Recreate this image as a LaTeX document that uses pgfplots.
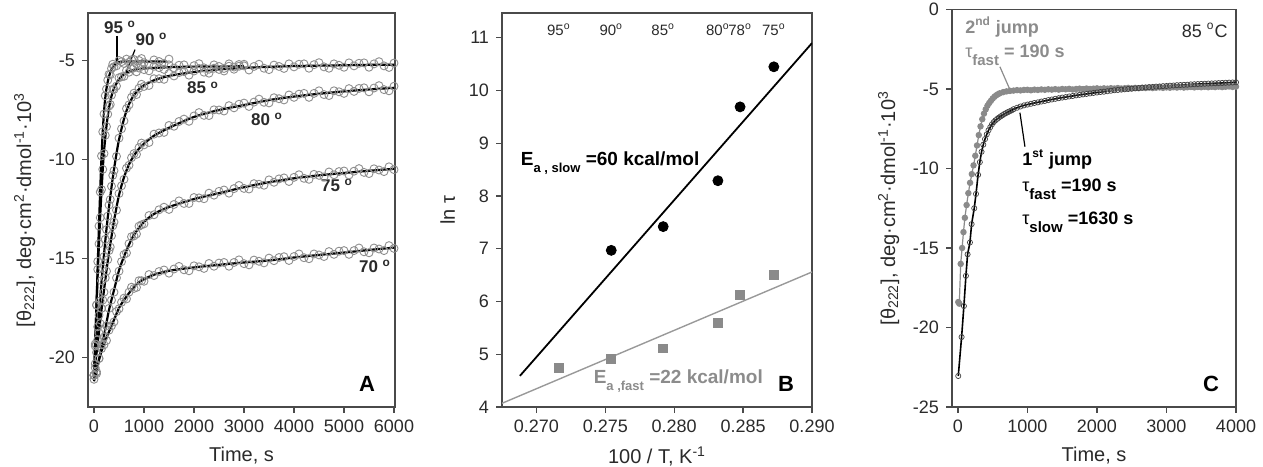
\documentclass[border=0pt]{standalone}
\usepackage{fontspec}
\setmainfont{Liberation Sans}
\usepackage{pgfplots}
\pgfplotsset{compat=1.18}
\usepackage{pgfplotstable}

\definecolor{axgray}{HTML}{4A4A4A}
\definecolor{labgray}{HTML}{2A2A2A}
\definecolor{circgray}{HTML}{8E8E8E}
\definecolor{ptgray}{HTML}{8A8A8A}
\definecolor{txtgray}{HTML}{8C8C8C}

\pgfplotsset{
  panel/.style={
    scale only axis,
    axis line style={draw=axgray, line width=0.8pt},
    tick align=outside, xtick pos=bottom, ytick pos=left,
    major tick length=3pt,
    tick style={draw=axgray, line width=0.7pt},
    ticklabel style={font=\fontsize{9}{10}\selectfont, text=labgray},
    label style={font=\fontsize{10}{12}\selectfont, text=labgray},
    /pgf/number format/assume math mode=true,
    /pgf/number format/1000 sep={},
    scaled ticks=false,
  },
  obs/.style={only marks, mark=o, mark size=2pt, mark options={draw=circgray, line width=0.45pt}},
  fit/.style={black, line width=1.1pt, smooth, tension=0.5},
}

% ---- panel A: observed points (time, ellipticity) ----
\pgfplotstableread{
x y
0 -20.90
25 -19.42
50 -17.35
75 -15.15
100 -13.36
125 -11.64
150 -9.82
175 -8.60
200 -7.70
225 -6.78
250 -6.44
275 -5.99
300 -5.70
325 -5.72
350 -5.40
375 -5.19
400 -5.31
450 -5.27
500 -5.00
550 -5.06
600 -5.15
650 -4.93
700 -5.09
750 -4.96
800 -4.95
850 -5.17
900 -5.00
950 -4.90
1000 -5.11
1100 -5.19
1200 -4.97
1300 -5.05
1400 -5.15
1500 -4.93
}\obsNF

\pgfplotstableread{
x y
0 -20.90
25 -19.32
50 -17.35
75 -15.55
100 -14.26
125 -12.94
150 -11.52
175 -10.50
200 -9.70
225 -8.78
250 -8.34
275 -7.71
300 -7.30
325 -7.22
350 -6.75
375 -6.45
400 -6.46
450 -6.29
500 -5.87
550 -5.82
600 -5.80
650 -5.50
700 -5.59
750 -5.41
800 -5.37
850 -5.57
900 -5.38
950 -5.26
1000 -5.46
1100 -5.52
1200 -5.29
1300 -5.36
1400 -5.45
1500 -5.22
1600 -5.38
1700 -5.24
1800 -5.22
1900 -5.44
2000 -5.26
2100 -5.16
2200 -5.37
2300 -5.44
2400 -5.22
2500 -5.30
2600 -5.40
2700 -5.17
2800 -5.33
2900 -5.20
3000 -5.19
}\obsNZ

\pgfplotstableread{
x y
0 -20.90
25 -20.32
50 -19.35
75 -18.45
100 -17.86
125 -17.14
150 -16.12
175 -15.50
200 -14.90
225 -14.03
250 -13.54
275 -12.86
300 -12.30
325 -12.02
350 -11.35
375 -10.80
400 -10.56
450 -9.84
500 -8.92
550 -8.45
600 -8.05
650 -7.43
700 -7.24
750 -6.86
800 -6.65
850 -6.72
900 -6.40
950 -6.20
1000 -6.31
1100 -6.26
1200 -5.92
1300 -5.92
1400 -5.95
1500 -5.66
1600 -5.78
1700 -5.61
1800 -5.56
1900 -5.74
2000 -5.53
2100 -5.40
2200 -5.59
2300 -5.64
2400 -5.39
2500 -5.45
2600 -5.53
2700 -5.29
2800 -5.44
2900 -5.29
3000 -5.27
3100 -5.48
3200 -5.30
3300 -5.19
3400 -5.39
3500 -5.46
3600 -5.23
3700 -5.30
3800 -5.40
3900 -5.17
4000 -5.32
4100 -5.19
4200 -5.17
4300 -5.39
4400 -5.21
4500 -5.11
4600 -5.32
4700 -5.39
4800 -5.17
4900 -5.24
5000 -5.34
5100 -5.12
5200 -5.27
5300 -5.14
5400 -5.12
5500 -5.34
5600 -5.17
5700 -5.06
5800 -5.27
5900 -5.35
6000 -5.13
}\obsEF

\pgfplotstableread{
x y
0 -20.90
25 -20.52
50 -19.75
75 -19.10
100 -18.76
125 -18.29
150 -17.52
175 -17.10
200 -16.70
225 -15.98
250 -15.64
275 -15.06
300 -14.60
325 -14.42
350 -13.85
375 -13.35
400 -13.16
450 -12.56
500 -11.72
550 -11.33
600 -11.00
650 -10.44
700 -10.29
750 -9.91
800 -9.70
850 -9.74
900 -9.40
950 -9.17
1000 -9.26
1100 -9.14
1200 -8.72
1300 -8.66
1400 -8.63
1500 -8.28
1600 -8.32
1700 -8.08
1800 -7.96
1900 -8.07
2000 -7.80
2100 -7.63
2200 -7.77
2300 -7.78
2400 -7.49
2500 -7.50
2600 -7.55
2700 -7.28
2800 -7.39
2900 -7.21
3000 -7.15
3100 -7.32
3200 -7.10
3300 -6.95
3400 -7.11
3500 -7.14
3600 -6.88
3700 -6.93
3800 -6.99
3900 -6.74
4000 -6.86
4100 -6.70
4200 -6.66
4300 -6.86
4400 -6.66
4500 -6.53
4600 -6.72
4700 -6.77
4800 -6.53
4900 -6.58
5000 -6.66
5100 -6.42
5200 -6.56
5300 -6.41
5400 -6.38
5500 -6.58
5600 -6.39
5700 -6.27
5800 -6.47
5900 -6.53
6000 -6.30
}\obsEZ

\pgfplotstableread{
x y
0 -20.90
50 -20.72
100 -20.05
150 -19.35
200 -18.96
250 -18.39
300 -17.52
350 -17.10
400 -16.70
450 -15.98
500 -15.64
550 -15.16
600 -14.80
650 -14.72
700 -14.25
750 -13.90
800 -13.86
850 -13.76
900 -13.37
950 -13.30
1000 -13.25
1100 -12.83
1200 -12.79
1300 -12.54
1400 -12.41
1500 -12.52
1600 -12.27
1700 -12.09
1800 -12.22
1900 -12.22
2000 -11.92
2100 -11.94
2200 -11.98
2300 -11.70
2400 -11.80
2500 -11.61
2600 -11.54
2700 -11.70
2800 -11.47
2900 -11.31
3000 -11.46
3100 -11.49
3200 -11.22
3300 -11.25
3400 -11.30
3500 -11.03
3600 -11.15
3700 -10.98
3800 -10.93
3900 -11.11
4000 -10.90
4100 -10.77
4200 -10.95
4300 -11.00
4400 -10.75
4500 -10.80
4600 -10.88
4700 -10.63
4800 -10.77
4900 -10.61
5000 -10.58
5100 -10.78
5200 -10.59
5300 -10.46
5400 -10.65
5500 -10.71
5600 -10.47
5700 -10.53
5800 -10.61
5900 -10.37
6000 -10.51
}\obsSF

\pgfplotstableread{
x y
0 -21.10
50 -20.82
100 -20.05
150 -19.55
200 -19.36
250 -19.14
300 -18.62
350 -18.40
400 -18.20
450 -17.68
500 -17.54
550 -17.21
600 -17.00
650 -17.04
700 -16.70
750 -16.45
800 -16.51
850 -16.46
900 -16.12
950 -16.12
1000 -16.15
1100 -15.81
1200 -15.86
1300 -15.66
1400 -15.58
1500 -15.74
1600 -15.53
1700 -15.40
1800 -15.57
1900 -15.62
2000 -15.37
2100 -15.42
2200 -15.50
2300 -15.25
2400 -15.39
2500 -15.23
2600 -15.20
2700 -15.39
2800 -15.20
2900 -15.07
3000 -15.26
3100 -15.32
3200 -15.08
3300 -15.14
3400 -15.22
3500 -14.98
3600 -15.11
3700 -14.95
3800 -14.91
3900 -15.10
4000 -14.90
4100 -14.77
4200 -14.96
4300 -15.01
4400 -14.77
4500 -14.82
4600 -14.90
4700 -14.65
4800 -14.79
4900 -14.63
5000 -14.60
5100 -14.79
5200 -14.60
5300 -14.47
5400 -14.66
5500 -14.71
5600 -14.47
5700 -14.52
5800 -14.60
5900 -14.35
6000 -14.49
}\obsSZ

% ---- panel A: fitted curves ----
\pgfplotstableread{
x y
0 -21.0
25 -19.3
50 -17.4
75 -15.3
100 -13.3
125 -11.5
150 -9.9
175 -8.6
200 -7.6
225 -6.9
250 -6.4
300 -5.8
350 -5.45
400 -5.25
450 -5.13
500 -5.08
600 -5.05
1000 -5.05
1450 -5.05
}\fitNF

\pgfplotstableread{
x y
0 -21.0
25 -19.2
50 -17.4
75 -15.7
100 -14.2
125 -12.8
150 -11.6
175 -10.5
200 -9.6
250 -8.3
300 -7.4
350 -6.8
400 -6.4
500 -5.95
600 -5.7
700 -5.55
800 -5.47
1000 -5.4
1500 -5.34
2000 -5.31
3000 -5.29
}\fitNZ

\pgfplotstableread{
x y
0 -21.0
50 -19.4
100 -17.8
150 -16.2
200 -14.8
250 -13.5
300 -12.4
350 -11.4
400 -10.5
450 -9.7
500 -9.0
600 -7.95
700 -7.2
800 -6.75
900 -6.45
1000 -6.25
1200 -6.0
1500 -5.78
2000 -5.58
2500 -5.45
3000 -5.37
3500 -5.32
4000 -5.28
4500 -5.26
5000 -5.24
5500 -5.22
6000 -5.21
}\fitEF

\pgfplotstableread{
x y
0 -21.0
50 -19.8
100 -18.7
150 -17.6
200 -16.6
250 -15.6
300 -14.7
350 -13.9
400 -13.1
500 -11.8
600 -10.9
700 -10.25
800 -9.8
900 -9.45
1000 -9.2
1200 -8.8
1500 -8.4
2000 -7.85
2500 -7.5
3000 -7.25
3500 -7.0
4000 -6.82
4500 -6.68
5000 -6.56
5500 -6.46
6000 -6.38
}\fitEZ

\pgfplotstableread{
x y
0 -21.0
50 -20.6
100 -20.1
200 -18.9
300 -17.6
400 -16.6
500 -15.6
600 -14.9
700 -14.3
800 -13.8
900 -13.45
1000 -13.15
1200 -12.75
1500 -12.4
2000 -12.0
2500 -11.7
3000 -11.4
3500 -11.15
4000 -10.95
4500 -10.8
5000 -10.68
5500 -10.57
6000 -10.47
}\fitSF

\pgfplotstableread{
x y
0 -21.2
50 -20.7
100 -20.1
200 -19.3
300 -18.7
400 -18.1
500 -17.5
600 -17.1
700 -16.75
800 -16.45
900 -16.2
1000 -16.05
1200 -15.82
1500 -15.62
2000 -15.45
2500 -15.32
3000 -15.2
3500 -15.1
4000 -14.95
4500 -14.82
5000 -14.7
5500 -14.57
6000 -14.45
}\fitSZ

% ---- panel C: second jump (grey) and first jump (black) ----
\pgfplotstableread{
x y
5 -18.4
20 -18.5
40 -16.0
60 -15.0
80 -14.0
100 -13.1
125 -12.3
150 -11.55
175 -10.9
200 -10.35
225 -9.8
250 -9.2
275 -8.55
300 -7.9
325 -7.35
350 -6.9
375 -6.55
400 -6.28
425 -6.05
450 -5.88
475 -5.74
500 -5.60
525 -5.49
550 -5.40
575 -5.33
600 -5.27
650 -5.20
700 -5.15
750 -5.12
800 -5.10
850 -5.07
900 -5.09
950 -5.06
1000 -5.05
1050 -5.08
1100 -5.04
1150 -5.06
1200 -5.03
1250 -5.05
1300 -5.02
1350 -5.04
1400 -5.01
1450 -5.04
1500 -5.00
1550 -5.02
1600 -4.99
1650 -5.03
1700 -5.00
1750 -4.98
1800 -5.01
1850 -4.97
1900 -5.00
1950 -4.98
2000 -4.96
2050 -4.99
2100 -4.96
2150 -4.98
2200 -4.95
2250 -4.97
2300 -4.94
2350 -4.97
2400 -4.95
2450 -4.93
2500 -4.96
2550 -4.93
2600 -4.95
2650 -4.92
2700 -4.94
2750 -4.91
2800 -4.94
2850 -4.92
2900 -4.90
2950 -4.93
3000 -4.90
3050 -4.92
3100 -4.89
3150 -4.91
3200 -4.88
3250 -4.91
3300 -4.89
3350 -4.87
3400 -4.90
3450 -4.87
3500 -4.89
3550 -4.86
3600 -4.89
3650 -4.86
3700 -4.88
3750 -4.85
3800 -4.88
3850 -4.86
3900 -4.84
3950 -4.87
4000 -4.85
}\jumpTwo

\pgfplotstableread{
x y
5 -23.05
53 -20.6
86 -18.65
115 -16.75
139 -15.4
173 -14.65
197 -13.5
235 -12.5
260 -11.6
290 -10.4
315 -9.6
340 -8.95
365 -8.5
390 -8.15
415 -7.85
440 -7.6
465 -7.4
490 -7.22
515 -7.08
540 -6.97
565 -6.88
590 -6.8
615 -6.72
640 -6.65
665 -6.58
690 -6.52
715 -6.46
740 -6.41
770 -6.35
800 -6.27
850 -6.18
900 -6.10
950 -6.03
1000 -5.98
1050 -5.93
1100 -5.88
1150 -5.84
1200 -5.79
1250 -5.75
1300 -5.70
1350 -5.66
1400 -5.62
1450 -5.58
1500 -5.54
1550 -5.51
1600 -5.47
1650 -5.44
1700 -5.40
1750 -5.37
1800 -5.34
1850 -5.31
1900 -5.28
1950 -5.25
2000 -5.22
2050 -5.19
2100 -5.17
2150 -5.14
2200 -5.11
2250 -5.08
2300 -5.06
2350 -5.04
2400 -5.02
2450 -5.00
2500 -4.98
2550 -4.96
2600 -4.94
2650 -4.92
2700 -4.90
2750 -4.88
2800 -4.87
2850 -4.85
2900 -4.84
2950 -4.82
3000 -4.81
3050 -4.79
3100 -4.78
3150 -4.76
3200 -4.75
3250 -4.74
3300 -4.73
3350 -4.71
3400 -4.70
3450 -4.69
3500 -4.68
3550 -4.67
3600 -4.66
3650 -4.65
3700 -4.64
3750 -4.63
3800 -4.62
3850 -4.61
3900 -4.60
3950 -4.59
4000 -4.58
}\jumpOne

\begin{document}
\begin{tikzpicture}
\path[use as bounding box] (0,0) rectangle (631.5pt,233pt);

% ================= A =================
\begin{axis}[panel,
  at={(44pt,29.5pt)}, anchor=south west,
  width=153.5pt, height=197pt,
  xmin=-120, xmax=6020, ymin=-22.5, ymax=-2.6,
  xtick={0,1000,...,6000}, ytick={-20,-15,-10,-5},
  xlabel={Time, s},
  ylabel={[θ\textsubscript{222}], deg·cm\textsuperscript{2}·dmol\textsuperscript{-1}·10\textsuperscript{3}},
]
\addplot[obs] table {\obsSZ};
\addplot[obs] table {\obsSF};
\addplot[obs] table {\obsEZ};
\addplot[obs] table {\obsEF};
\addplot[obs] table {\obsNZ};
\addplot[obs] table {\obsNF};
\addplot[fit] table {\fitSZ};
\addplot[fit] table {\fitSF};
\addplot[fit] table {\fitEZ};
\addplot[fit] table {\fitEF};
\addplot[fit] table {\fitNZ};
\addplot[fit] table {\fitNF};
\draw[black, line width=0.6pt] (axis cs:460,-3.75) -- (axis cs:460,-5.05);
\draw[black, line width=0.6pt] (axis cs:820,-4.45) -- (axis cs:640,-5.6);
\begin{scope}[every node/.style={font=\fontsize{8.5}{10}\selectfont\bfseries, text=labgray}]
\node at (axis cs:520,-3.33) {95 \textsuperscript{o}};
\node at (axis cs:1150,-3.94) {90 \textsuperscript{o}};
\node at (axis cs:2180,-6.39) {85 \textsuperscript{o}};
\node at (axis cs:3460,-7.98) {80 \textsuperscript{o}};
\node at (axis cs:4860,-11.31) {75 \textsuperscript{o}};
\node at (axis cs:5620,-15.4) {70 \textsuperscript{o}};
\end{scope}
\node[font=\fontsize{11}{12}\selectfont\bfseries] at (axis cs:5460,-21.36) {A};
\end{axis}

% ================= B =================
\begin{axis}[panel,
  at={(251pt,29.5pt)}, anchor=south west,
  width=155pt, height=197pt,
  xmin=0.2675, xmax=0.290, ymin=4, ymax=11.47,
  xtick={0.270,0.275,0.280,0.285,0.290}, ytick={4,5,...,11},
  xticklabel style={/pgf/number format/.cd, fixed, fixed zerofill, precision=3},
  xlabel={100 / T, K\textsuperscript{-1}},
  ylabel={ln τ},
]
\addplot[gray!80, line width=0.7pt] coordinates {(0.2675,4.07) (0.290,6.56)};
\addplot[black, line width=0.9pt] coordinates {(0.2688,4.59) (0.290,10.9)};
\addplot[only marks, mark=square*, mark size=2.2pt, color=ptgray] coordinates {
  (0.27163,4.74) (0.27543,4.91) (0.27920,5.11) (0.28317,5.59) (0.28478,6.12) (0.28723,6.50)};
\addplot[only marks, mark=*, mark size=2.5pt, color=black] coordinates {
  (0.27543,6.97) (0.27920,7.42) (0.28317,8.29) (0.28478,9.69) (0.28723,10.45)};
\begin{scope}[every node/.style={font=\fontsize{7.5}{9}\selectfont, text=labgray, inner sep=0pt}]
\node at (axis cs:0.27163,11.15) {95\textsuperscript{o}};
\node at (axis cs:0.27543,11.15) {90\textsuperscript{o}};
\node at (axis cs:0.27920,11.15) {85\textsuperscript{o}};
\node at (axis cs:0.28317,11.15) {80\textsuperscript{o}};
\node at (axis cs:0.28478,11.15) {78\textsuperscript{o}};
\node at (axis cs:0.28723,11.15) {75\textsuperscript{o}};
\end{scope}
\node[anchor=west, font=\fontsize{9.5}{11}\selectfont\bfseries, inner sep=0pt] at (axis cs:0.26884,8.63)
  {E\raisebox{-3.5pt}{\fontsize{6.5}{8}\selectfont a , slow} =60 kcal/mol};
\node[anchor=west, font=\fontsize{9.5}{11}\selectfont\bfseries, text=txtgray, inner sep=0pt] at (axis cs:0.27413,4.5)
  {E\raisebox{-3.5pt}{\fontsize{6.5}{8}\selectfont a ,fast} =22 kcal/mol};
\node[font=\fontsize{11}{12}\selectfont\bfseries] at (axis cs:0.28812,4.44) {B};
\end{axis}

% ================= C =================
\begin{axis}[panel,
  at={(476pt,29.5pt)}, anchor=south west,
  width=142pt, height=198.75pt,
  xmin=-85, xmax=4000, ymin=-25, ymax=0,
  xtick={0,1000,...,4000}, ytick={-25,-20,...,0},
  xlabel={Time, s},
  ylabel={[θ\textsubscript{222}], deg·cm\textsuperscript{2}·dmol\textsuperscript{-1}·10\textsuperscript{3}},
]
\addplot[color=ptgray, line width=0.6pt, mark=*, mark size=1.3pt,
  mark options={fill=ptgray, draw=ptgray}] table {\jumpTwo};
\addplot[only marks, mark=o, mark size=1.3pt, mark options={draw=black!75, fill=white, line width=0.35pt}] table {\jumpOne};
\addplot[black, line width=0.8pt] table {\jumpOne};
\draw[txtgray, line width=0.6pt] (axis cs:604,-3.6) -- (axis cs:748,-5.04);
\draw[black, line width=0.6pt] (axis cs:964,-8.63) -- (axis cs:892,-6.49);
\node[anchor=west, font=\fontsize{9}{10}\selectfont\bfseries, text=txtgray, inner sep=0pt] at (axis cs:100,-1.1)
  {2\textsuperscript{nd} jump};
\node[anchor=west, font=\fontsize{9}{10}\selectfont\bfseries, text=txtgray, inner sep=0pt] at (axis cs:100,-2.85)
  {\mdseries τ\raisebox{-4pt}{\fontsize{7.5}{8}\selectfont\bfseries fast}\bfseries\ = 190 s};
\node[anchor=east, font=\fontsize{9}{10}\selectfont, text=labgray, inner sep=0pt] at (axis cs:3885,-1.3)
  {85 \textsuperscript{o}C};
\node[anchor=west, font=\fontsize{9}{10}\selectfont\bfseries, text=black, inner sep=0pt] at (axis cs:921,-9.45)
  {1\textsuperscript{st} jump};
\node[anchor=west, font=\fontsize{9}{10}\selectfont\bfseries, text=black, inner sep=0pt] at (axis cs:921,-11.3)
  {\mdseries τ\raisebox{-4pt}{\fontsize{7.5}{8}\selectfont\bfseries fast}\bfseries\ =190 s};
\node[anchor=west, font=\fontsize{9}{10}\selectfont\bfseries, text=black, inner sep=0pt] at (axis cs:921,-13.4)
  {\mdseries τ\raisebox{-4pt}{\fontsize{7.5}{8}\selectfont\bfseries slow}\bfseries\ =1630 s};
\node[font=\fontsize{11}{12}\selectfont\bfseries] at (axis cs:3641,-23.55) {C};
\end{axis}
\end{tikzpicture}
\end{document}
